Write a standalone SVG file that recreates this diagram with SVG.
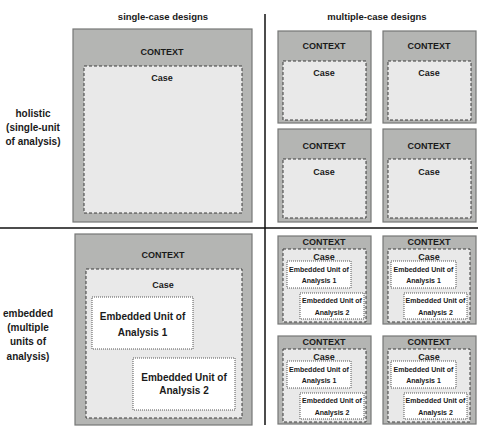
<svg xmlns="http://www.w3.org/2000/svg" width="490" height="437" viewBox="0 0 490 437">
<style>
text{font-family:"Liberation Sans",Arial,sans-serif;font-weight:bold;fill:#1a1a1a;text-anchor:middle}
.ctx{fill:#b4b5b3;stroke:#767776;stroke-width:1.2}
.case{fill:#e9e9e9;stroke:#3a3a3a;stroke-width:1;stroke-dasharray:3,2}
.emb{fill:#ffffff;stroke:#555;stroke-width:1;stroke-dasharray:1,1}
.t9{font-size:9px}
.t10{font-size:10px}
.t7{font-size:7px}
.sep{stroke:#111;stroke-width:1.5}
</style>
<rect width="490" height="437" fill="#fff"/>
<g id="headers">
<text class="t10" x="163" y="20" style="font-size:9.5px">single-case designs</text>
<text class="t10" x="377" y="20" style="font-size:9.5px">multiple-case designs</text>
<text class="t10" x="33" y="117">holistic</text>
<text class="t10" x="33" y="131">(single-unit</text>
<text class="t10" x="33" y="145">of analysis)</text>
<text class="t10" x="28" y="317">embedded</text>
<text class="t10" x="28" y="331">(multiple</text>
<text class="t10" x="28" y="345">units of</text>
<text class="t10" x="28" y="360">analysis)</text>
</g>
<g id="connectors">
<line class="sep" x1="0" y1="228" x2="478" y2="228"/>
<line class="sep" x1="265" y1="14" x2="265" y2="425"/>
</g>
<g id="single-holistic">
<rect class="ctx" x="73" y="29" width="179" height="193"/>
<text class="t9" x="162" y="55">CONTEXT</text>
<rect class="case" x="84" y="66" width="158" height="147"/>
<text class="t9" x="162" y="81">Case</text>
</g>
<g id="multi-holistic-1">
<rect class="ctx" x="278" y="31" width="93" height="92"/>
<text class="t9" x="324" y="49">CONTEXT</text>
<rect class="case" x="283" y="61" width="83" height="59"/>
<text class="t9" x="324" y="76">Case</text>
</g>
<g id="multi-holistic-2">
<rect class="ctx" x="383" y="31" width="93" height="92"/>
<text class="t9" x="429" y="49">CONTEXT</text>
<rect class="case" x="388" y="61" width="83" height="59"/>
<text class="t9" x="429" y="76">Case</text>
</g>
<g id="multi-holistic-3">
<rect class="ctx" x="278" y="129" width="93" height="93"/>
<text class="t9" x="324" y="149">CONTEXT</text>
<rect class="case" x="283" y="159" width="83" height="59"/>
<text class="t9" x="324" y="175">Case</text>
</g>
<g id="multi-holistic-4">
<rect class="ctx" x="383" y="129" width="93" height="93"/>
<text class="t9" x="429" y="149">CONTEXT</text>
<rect class="case" x="388" y="159" width="83" height="59"/>
<text class="t9" x="429" y="175">Case</text>
</g>
<g id="single-embedded">
<rect class="ctx" x="75" y="234" width="177" height="191"/>
<text class="t9" x="163" y="258">CONTEXT</text>
<rect class="case" x="86" y="269" width="156" height="149"/>
<text class="t9" x="163" y="288">Case</text>
<rect class="emb" x="92" y="297" width="101" height="52"/>
<text class="t10" x="142.5" y="320">Embedded Unit of</text>
<text class="t10" x="142.5" y="336">Analysis 1</text>
<rect class="emb" x="133" y="358" width="102" height="52"/>
<text class="t10" x="184" y="381">Embedded Unit of</text>
<text class="t10" x="184" y="394">Analysis 2</text>
</g>
<g id="multi-embedded-1">
<rect class="ctx" x="278" y="236" width="93" height="88"/>
<text class="t9" x="324" y="244.5">CONTEXT</text>
<rect class="case" x="283" y="249" width="83" height="73"/>
<text class="t9" x="324" y="259.5">Case</text>
<rect class="emb" x="287" y="261" width="64" height="27"/>
<text class="t7" x="319" y="271.5">Embedded Unit of</text>
<text class="t7" x="319" y="282.5">Analysis 1</text>
<rect class="emb" x="300" y="293" width="64" height="26"/>
<text class="t7" x="332" y="302.5">Embedded Unit of</text>
<text class="t7" x="332" y="314.5">Analysis 2</text>
</g>
<g id="multi-embedded-2">
<rect class="ctx" x="383" y="236" width="93" height="88"/>
<text class="t9" x="429" y="244.5">CONTEXT</text>
<rect class="case" x="388" y="249" width="82" height="73"/>
<text class="t9" x="429" y="259.5">Case</text>
<rect class="emb" x="391" y="261" width="65" height="27"/>
<text class="t7" x="423.5" y="271.5">Embedded Unit of</text>
<text class="t7" x="423.5" y="282.5">Analysis 1</text>
<rect class="emb" x="404" y="293" width="63" height="26"/>
<text class="t7" x="435.5" y="302.5">Embedded Unit of</text>
<text class="t7" x="435.5" y="314.5">Analysis 2</text>
</g>
<g id="multi-embedded-3">
<rect class="ctx" x="278" y="336" width="93" height="88"/>
<text class="t9" x="324" y="344.5">CONTEXT</text>
<rect class="case" x="283" y="349" width="83" height="73"/>
<text class="t9" x="324" y="359.5">Case</text>
<rect class="emb" x="287" y="361" width="64" height="27"/>
<text class="t7" x="319" y="371.5">Embedded Unit of</text>
<text class="t7" x="319" y="382.5">Analysis 1</text>
<rect class="emb" x="300" y="393" width="64" height="26"/>
<text class="t7" x="332" y="402.5">Embedded Unit of</text>
<text class="t7" x="332" y="414.5">Analysis 2</text>
</g>
<g id="multi-embedded-4">
<rect class="ctx" x="383" y="336" width="93" height="88"/>
<text class="t9" x="429" y="344.5">CONTEXT</text>
<rect class="case" x="388" y="349" width="82" height="73"/>
<text class="t9" x="429" y="359.5">Case</text>
<rect class="emb" x="391" y="361" width="65" height="27"/>
<text class="t7" x="423.5" y="371.5">Embedded Unit of</text>
<text class="t7" x="423.5" y="382.5">Analysis 1</text>
<rect class="emb" x="404" y="393" width="63" height="26"/>
<text class="t7" x="435.5" y="402.5">Embedded Unit of</text>
<text class="t7" x="435.5" y="414.5">Analysis 2</text>
</g>
</svg>
